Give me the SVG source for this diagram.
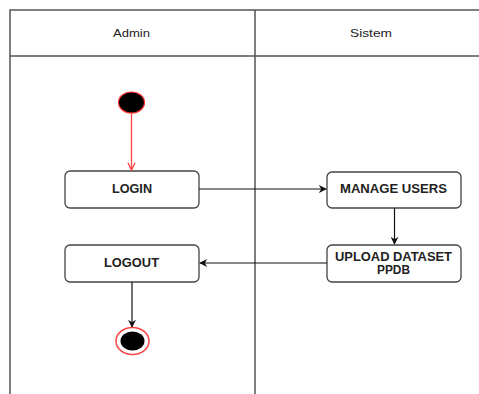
<svg xmlns="http://www.w3.org/2000/svg" width="479" height="394" viewBox="0 0 479 394">
<defs>
<style>
.lane{fill:none;stroke:#555;stroke-width:1.5}
.box{fill:#fff;stroke:#444;stroke-width:1.3}
.t{font-family:"Liberation Sans",Arial,sans-serif;font-size:12px;font-weight:bold;fill:#222;text-anchor:middle}
.h{font-family:"Liberation Sans",Arial,sans-serif;font-size:11px;fill:#222;text-anchor:middle}
.c{fill:none;stroke:#111;stroke-width:1.2}
</style>
<marker id="ah" viewBox="0 0 10 10" refX="9" refY="5" markerWidth="8" markerHeight="8" orient="auto" markerUnits="userSpaceOnUse">
<path d="M0,0 L10,5 L0,10 L3,5 Z" fill="#111"/>
</marker>
<marker id="ar" viewBox="0 0 10 10" refX="9" refY="5" markerWidth="9" markerHeight="9" orient="auto" markerUnits="userSpaceOnUse">
<path d="M1,1 L9,5 L1,9" fill="none" stroke="#f44" stroke-width="1.5"/>
</marker>
</defs>
<rect width="479" height="394" fill="#fff"/>
<g id="lanes">
<path class="lane" d="M10,394 V10 H479 M10,56 H479 M255,10 V394"/>
<text class="h" x="131.5" y="37" textLength="37" lengthAdjust="spacingAndGlyphs">Admin</text>
<text class="h" x="371" y="37" textLength="42" lengthAdjust="spacingAndGlyphs">Sistem</text>
</g>
<g id="start">
<ellipse cx="131.5" cy="102.5" rx="13" ry="10.5" fill="#000" stroke="#f33" stroke-width="1.2"/>
</g>
<g id="login">
<rect class="box" x="65" y="171" width="134" height="37" rx="5"/>
<text class="t" x="132" y="193" textLength="40" lengthAdjust="spacingAndGlyphs">LOGIN</text>
</g>
<g id="manage">
<rect class="box" x="327" y="172" width="134" height="36" rx="5"/>
<text class="t" x="393.5" y="193" textLength="107" lengthAdjust="spacingAndGlyphs">MANAGE USERS</text>
</g>
<g id="upload">
<rect class="box" x="327" y="245" width="134" height="37" rx="5"/>
<text class="t" x="393.5" y="261" textLength="117" lengthAdjust="spacingAndGlyphs">UPLOAD DATASET</text>
<text class="t" x="393.5" y="274" textLength="33" lengthAdjust="spacingAndGlyphs">PPDB</text>
</g>
<g id="logout">
<rect class="box" x="65" y="245" width="134" height="37" rx="5"/>
<text class="t" x="131.5" y="267" textLength="55" lengthAdjust="spacingAndGlyphs">LOGOUT</text>
</g>
<g id="end">
<ellipse cx="132.5" cy="341" rx="16.5" ry="13.5" fill="#fff" stroke="#f44" stroke-width="1.5"/>
<ellipse cx="132.5" cy="341" rx="12" ry="9.5" fill="#000"/>
</g>
<g id="connectors">
<path d="M131.5,113 V170" fill="none" stroke="#f44" stroke-width="1.3" marker-end="url(#ar)"/>
<path class="c" d="M199,189 H326" marker-end="url(#ah)"/>
<path class="c" d="M394.5,208 V244" marker-end="url(#ah)"/>
<path class="c" d="M327,263 H200" marker-end="url(#ah)"/>
<path class="c" d="M132,282 V327" marker-end="url(#ah)"/>
</g>
</svg>
